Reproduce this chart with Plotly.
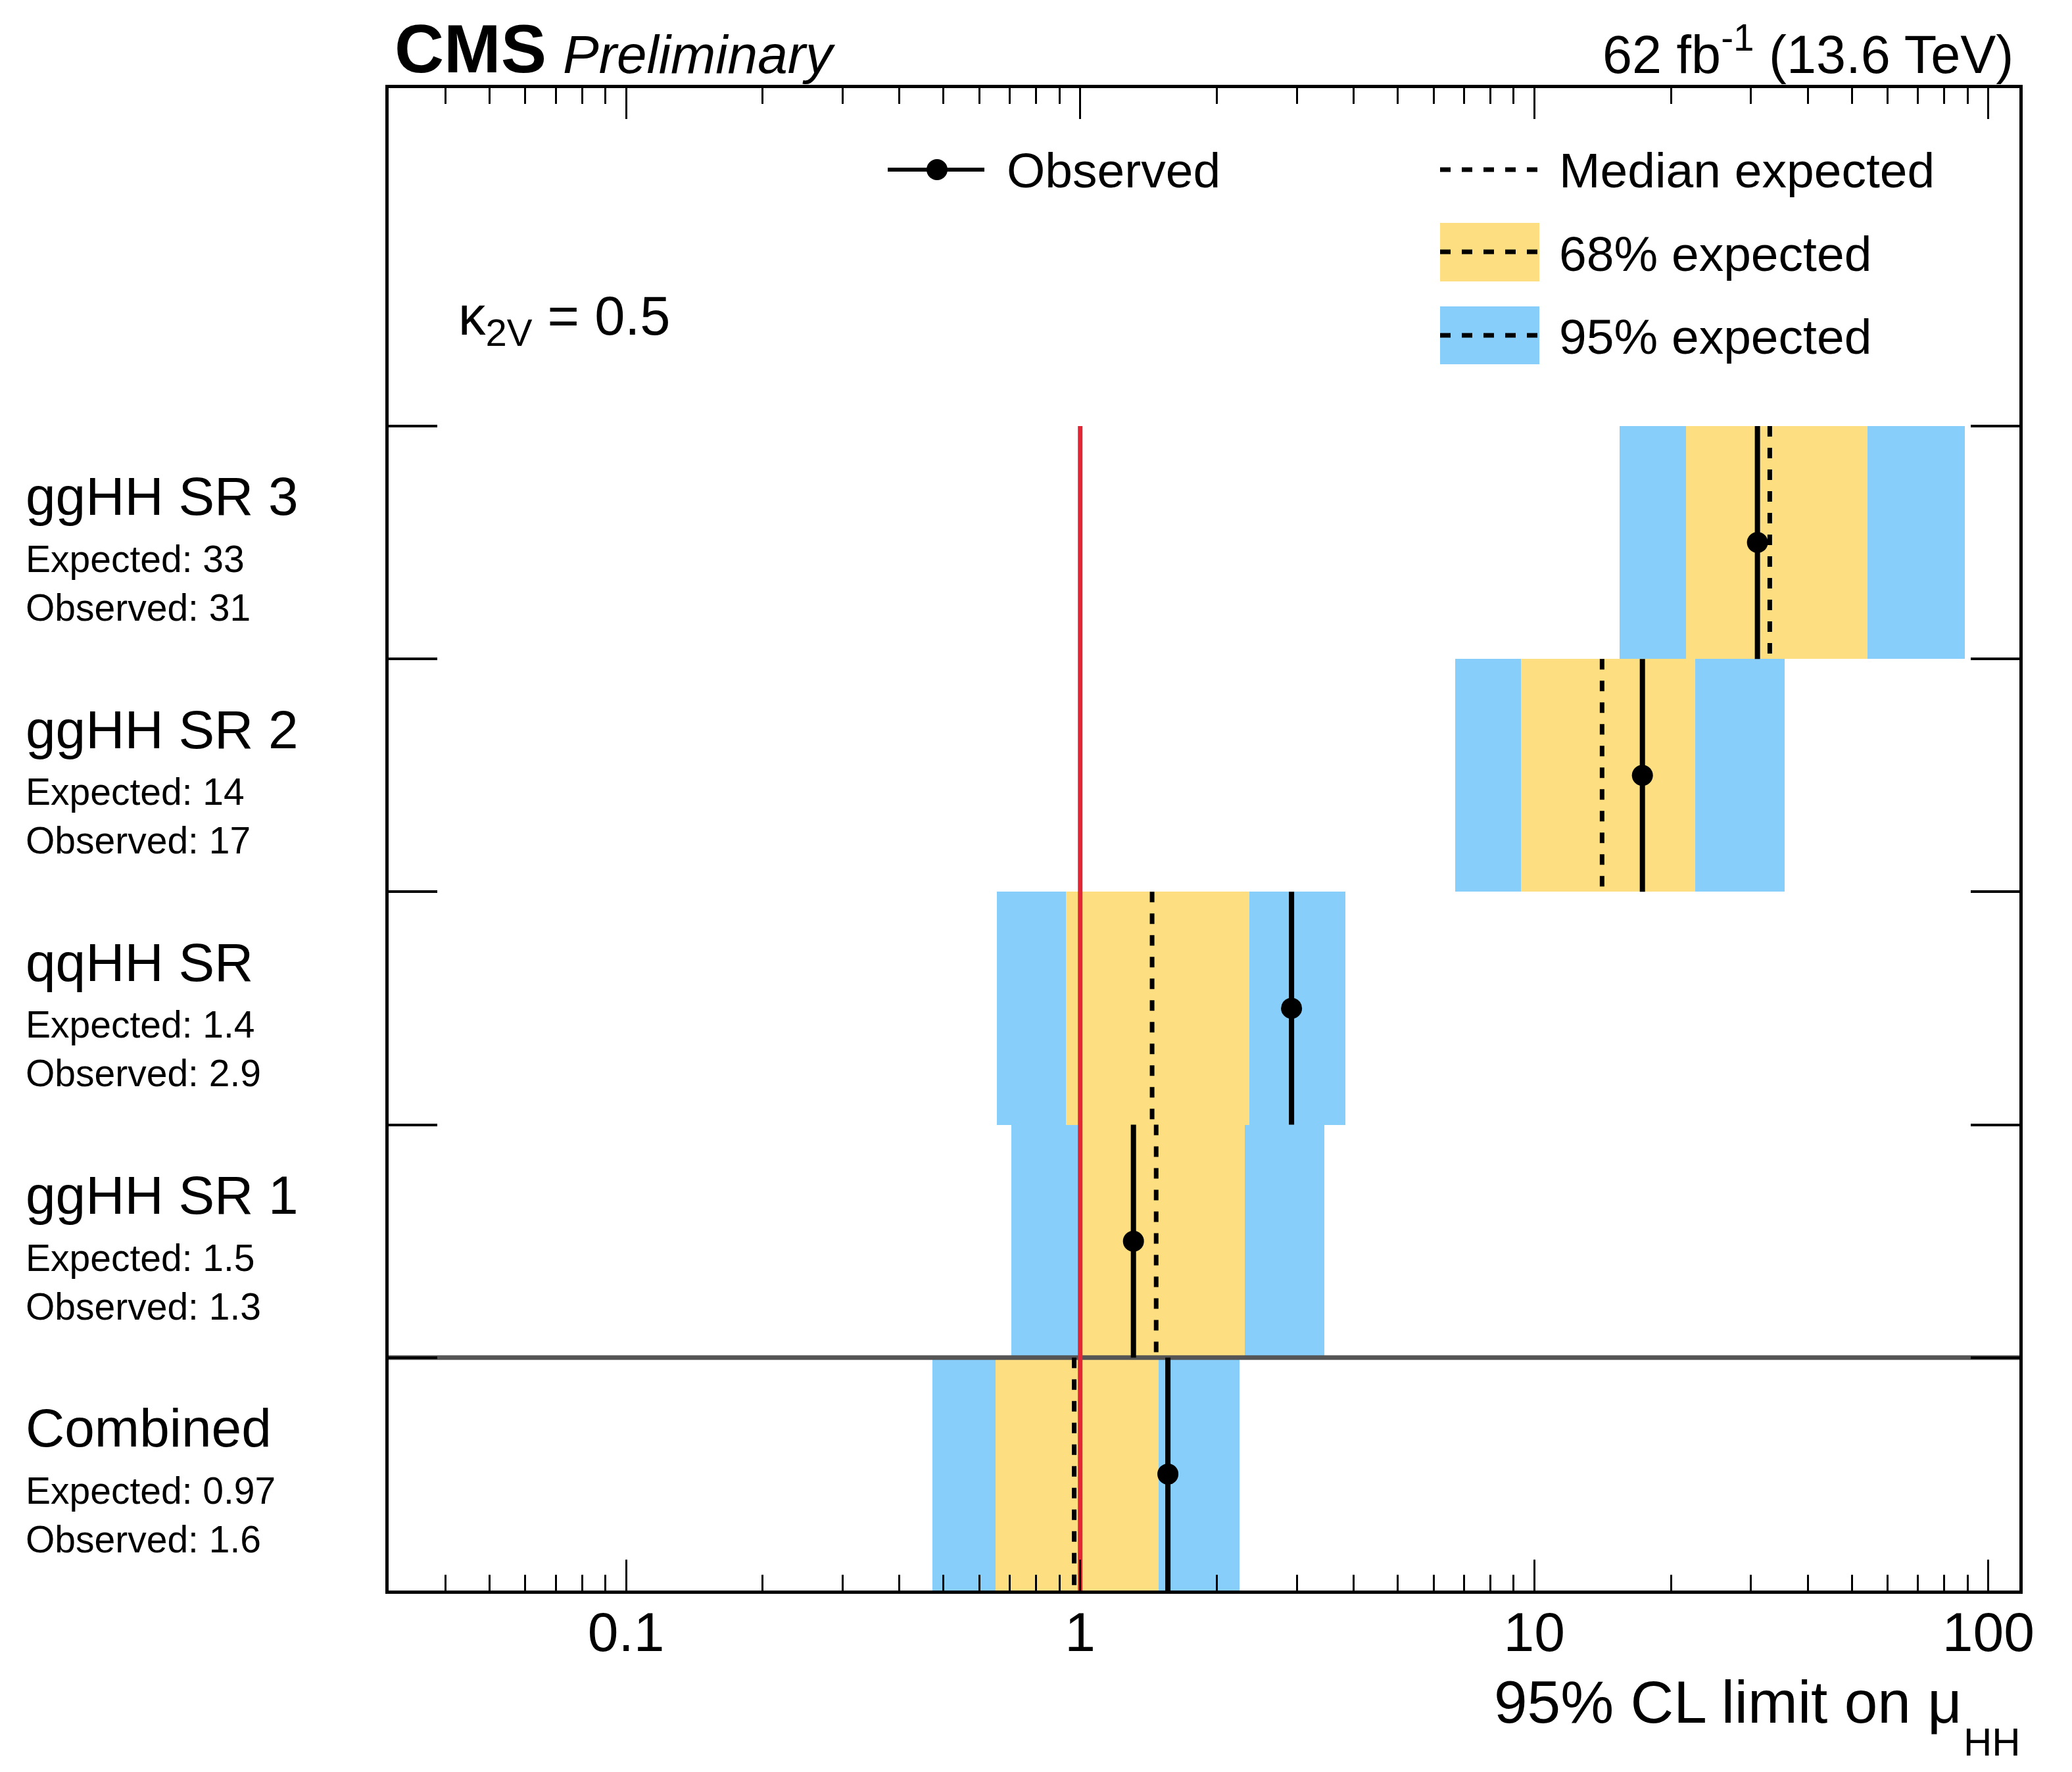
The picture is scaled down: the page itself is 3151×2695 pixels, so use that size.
import numpy as np
import plotly.graph_objects as go

# Limits per category, listed from the bottom row to the top row
CATEGORIES = ['Combined', 'ggHH SR 1', 'qqHH SR', 'ggHH SR 2', 'ggHH SR 3']
OBSERVED = [1.56, 1.31, 2.92, 17.3, 31.0]
EXPECTED = [0.97, 1.47, 1.44, 14.1, 33.0]
EXP_68_LO = [0.65, 0.99, 0.93, 9.35, 21.6]
EXP_68_HI = [1.49, 2.30, 2.36, 22.6, 54.1]
EXP_95_LO = [0.473, 0.705, 0.655, 6.70, 15.4]
EXP_95_HI = [2.24, 3.45, 3.84, 35.6, 88.7]
X_TICKS = [0.1, 1, 10, 100]
X_TICK_LABELS = ['0.1', '1', '10', '100']
SM_REFERENCE = 1.0
KAPPA_2V = 0.5
LUMI = 62
SQRT_S = 13.6

# Styles
COLOR_68 = '#FDDE80'
COLOR_95 = '#87CEFA'
RED = '#E32636'
SEP_GRAY = '#555555'
FONT = 'Liberation Sans'
DASH = '16px,17px'

# Page geometry (pixels)
W, H = 3151, 2695
L, R, T, B = 591, 80, 134, 276
PW, PH = W - L - R, H - T - B
X_RANGE = [np.log10(0.03), np.log10(117)]
Y_TOP = 6.451


def px(x):
    """page x pixel -> paper coordinate"""
    return (x - L) / PW


def py(y):
    """page y pixel -> paper coordinate"""
    return (H - B - y) / PH


rows = np.arange(len(CATEGORIES))
centers = rows + 0.5

fig = go.Figure()

# Expected bands
fig.add_trace(go.Bar(y=centers, x=np.array(EXP_95_HI) - np.array(EXP_95_LO), base=EXP_95_LO,
                     orientation='h', width=1, marker=dict(color=COLOR_95, line_width=0),
                     showlegend=False, hoverinfo='skip'))
fig.add_trace(go.Bar(y=centers, x=np.array(EXP_68_HI) - np.array(EXP_68_LO), base=EXP_68_LO,
                     orientation='h', width=1, marker=dict(color=COLOR_68, line_width=0),
                     showlegend=False, hoverinfo='skip'))

# Separator between combined and the individual categories
x_lo, x_hi = 10 ** X_RANGE[0], 10 ** X_RANGE[1]
fig.add_trace(go.Scatter(x=[x_lo, x_hi], y=[1, 1], mode='lines',
                         line=dict(color=SEP_GRAY, width=7), showlegend=False, hoverinfo='skip'))

# SM reference line
fig.add_trace(go.Scatter(x=[SM_REFERENCE, SM_REFERENCE], y=[0, len(CATEGORIES)], mode='lines',
                         line=dict(color=RED, width=7), showlegend=False, hoverinfo='skip'))

# Median expected (dashed) and observed (solid + dot) per row
def segments(values):
    xs, ys = [], []
    for i, v in enumerate(values):
        xs += [v, v, None]
        ys += [i + 1, i, None]
    return xs, ys

mx, my = segments(EXPECTED)
fig.add_trace(go.Scatter(x=mx, y=my, mode='lines', line=dict(color='black', width=7, dash=DASH),
                         showlegend=False, hoverinfo='skip'))
ox, oy = segments(OBSERVED)
fig.add_trace(go.Scatter(x=ox, y=oy, mode='lines', line=dict(color='black', width=8),
                         showlegend=False, hoverinfo='skip'))
fig.add_trace(go.Scatter(x=OBSERVED, y=centers, mode='markers',
                         marker=dict(color='black', size=32), showlegend=False))

# Legend drawn by hand (ROOT style)
shapes = [
    dict(type='line', xref='paper', yref='paper', x0=px(1350), x1=px(1497), y0=py(258), y1=py(258),
         line=dict(color='black', width=6)),
    dict(type='circle', xref='paper', yref='paper', xsizemode='pixel', ysizemode='pixel',
         xanchor=px(1425), yanchor=py(258), x0=-16, x1=16, y0=-16, y1=16,
         fillcolor='black', line=dict(color='black', width=0)),
    dict(type='line', xref='paper', yref='paper', x0=px(2190), x1=px(2341), y0=py(258), y1=py(258),
         line=dict(color='black', width=7, dash=DASH)),
    dict(type='rect', xref='paper', yref='paper', x0=px(2190), x1=px(2341), y0=py(428), y1=py(339),
         fillcolor=COLOR_68, line=dict(width=0)),
    dict(type='line', xref='paper', yref='paper', x0=px(2190), x1=px(2341), y0=py(383), y1=py(383),
         line=dict(color='black', width=7, dash=DASH)),
    dict(type='rect', xref='paper', yref='paper', x0=px(2190), x1=px(2341), y0=py(554), y1=py(466),
         fillcolor=COLOR_95, line=dict(width=0)),
    dict(type='line', xref='paper', yref='paper', x0=px(2190), x1=px(2341), y0=py(510), y1=py(510),
         line=dict(color='black', width=7, dash=DASH)),
]

annotations = [
    dict(text='Observed', x=px(1529), y=py(259), font=dict(size=75)),
    dict(text='Median expected', x=px(2369), y=py(259), font=dict(size=75)),
    dict(text='68% expected', x=px(2369), y=py(386), font=dict(size=75)),
    dict(text='95% expected', x=px(2369), y=py(512), font=dict(size=75)),
    dict(text=f'κ<sub>2V</sub> = {KAPPA_2V}', x=px(695), y=py(432), yanchor='top', font=dict(size=83)),
    dict(text='<b>CMS</b>', x=px(598), y=py(134), yanchor='bottom', font=dict(size=104)),
    dict(text='<i>Preliminary</i>', x=px(854), y=py(130), yanchor='bottom', font=dict(size=82)),
    dict(text=f'{LUMI} fb<sup>-1</sup> ({SQRT_S} TeV)', x=px(3064), y=py(130), xanchor='right',
         yanchor='bottom', font=dict(size=81)),
    dict(text='95% CL limit on μ', x=px(2986), y=py(2588), xanchor='right', font=dict(size=91)),
    dict(text='HH', x=px(2984), y=py(2649), font=dict(size=60)),
]
for a in annotations:
    a.setdefault('xref', 'paper')
    a.setdefault('yref', 'paper')
    a.setdefault('xanchor', 'left')
    a.setdefault('yanchor', 'middle')
    a['showarrow'] = False

# Category labels on the left
for i, name in enumerate(CATEGORIES):
    for text, size, shift in [(name, 82, -107),
                              (f'Expected: {EXPECTED[i]:.2g}', 57, -202),
                              (f'Observed: {OBSERVED[i]:.2g}', 57, -276)]:
        annotations.append(dict(text=text, xref='paper', yref='y', x=px(37), y=i + 1, yshift=shift,
                                xanchor='left', yanchor='middle', showarrow=False,
                                font=dict(size=size)))

minor_ticks = [k * 10.0 ** e for e in range(-2, 2) for k in range(2, 10)]
minor_ticks = [v for v in minor_ticks if 0.031 < v < 117]

fig.update_layout(
    width=W, height=H,
    margin=dict(l=L, r=R, t=T, b=B, pad=0),
    plot_bgcolor='white', paper_bgcolor='white',
    font=dict(family=FONT, color='black'),
    barmode='overlay', bargap=0,
    shapes=shapes, annotations=annotations,
    showlegend=False,
)
fig.update_xaxes(type='log', range=X_RANGE, showgrid=False, zeroline=False,
                 showline=True, linewidth=5, linecolor='black', mirror='ticks',
                 ticks='inside', ticklen=47, tickwidth=3, tickcolor='black',
                 tickmode='array', tickvals=X_TICKS, ticktext=X_TICK_LABELS,
                 tickfont=dict(size=84, family=FONT), ticklabelstandoff=-14,
                 minor=dict(ticks='inside', ticklen=24, tickwidth=3, tickcolor='black',
                            tickmode='array', tickvals=minor_ticks, showgrid=False))
fig.update_yaxes(range=[0, Y_TOP], showgrid=False, zeroline=False,
                 showline=True, linewidth=5, linecolor='black', mirror='ticks',
                 ticks='inside', ticklen=74, tickwidth=4, tickcolor='black',
                 tickmode='array', tickvals=list(range(1, len(CATEGORIES) + 1)),
                 showticklabels=False)

fig.write_html("out.html", config={'displayModeBar': False},
               post_script="document.body.style.margin='0';")
